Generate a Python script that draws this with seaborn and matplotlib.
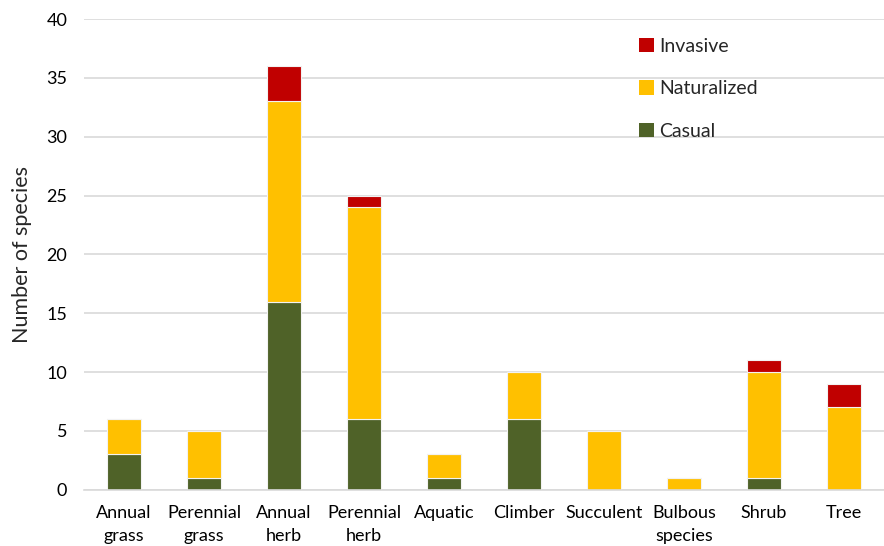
import matplotlib
matplotlib.use("Agg")
import matplotlib.pyplot as plt
from matplotlib.patches import Patch
import numpy as np
import pandas as pd
import seaborn as sns

categories = ["Annual\ngrass", "Perennial\ngrass", "Annual\nherb", "Perennial\nherb", "Aquatic",
              "Climber", "Succulent", "Bulbous\nspecies", "Shrub", "Tree"]
casual = [3, 1, 16, 6, 1, 6, 0, 0, 1, 0]
naturalized = [3, 4, 17, 18, 2, 4, 5, 1, 9, 7]
invasive = [0, 0, 3, 1, 0, 0, 0, 0, 1, 2]

colors = {"Casual": "#4F6228", "Naturalized": "#FFC000", "Invasive": "#C00000"}

sns.set_theme(style="white")
plt.rcParams["font.family"] = ["Lato", "DejaVu Sans"]

df = pd.DataFrame({"group": categories, "Casual": casual,
                   "Naturalized": naturalized, "Invasive": invasive})

fig = plt.figure(figsize=(8.84, 5.46), dpi=100)
ax = fig.add_axes([0.095, 0.103, 0.905, 0.862])

bottom = np.zeros(len(categories))
for series in ["Casual", "Naturalized", "Invasive"]:
    sns.barplot(data=df, x="group", y=series, bottom=bottom, color=colors[series],
                width=0.42, edgecolor="#F2F2F2", linewidth=0.8, saturation=1, ax=ax)
    bottom = bottom + df[series].to_numpy()

ax.set_ylim(0, 40)
ax.set_yticks(range(0, 41, 5))
ax.set_xlim(-0.5, len(categories) - 0.5)
ax.yaxis.grid(True, color="#D9D9D9", linewidth=1.2)
ax.set_axisbelow(True)
for s in ["top", "right", "left"]:
    ax.spines[s].set_visible(False)
ax.spines["bottom"].set_color("#D9D9D9")
ax.spines["bottom"].set_linewidth(1.2)
ax.tick_params(axis="both", length=0, labelsize=13, colors="black")
ax.tick_params(axis="y", pad=12)
ax.tick_params(axis="x", pad=11)
for lbl in ax.get_xticklabels():
    lbl.set_linespacing(1.5)
ax.set_xlabel("")
ax.set_ylabel("Number of species", fontsize=15.5, labelpad=10)

handles = [Patch(facecolor=colors[k], edgecolor="none") for k in ["Invasive", "Naturalized", "Casual"]]
ax.legend(handles, ["Invasive", "Naturalized", "Casual"], loc="upper left",
          bbox_to_anchor=(0.672, 0.998), frameon=False, fontsize=14,
          labelspacing=1.32, handlelength=0.75, handleheight=0.75, handletextpad=0.3)

fig.savefig("out.png", dpi=100)
